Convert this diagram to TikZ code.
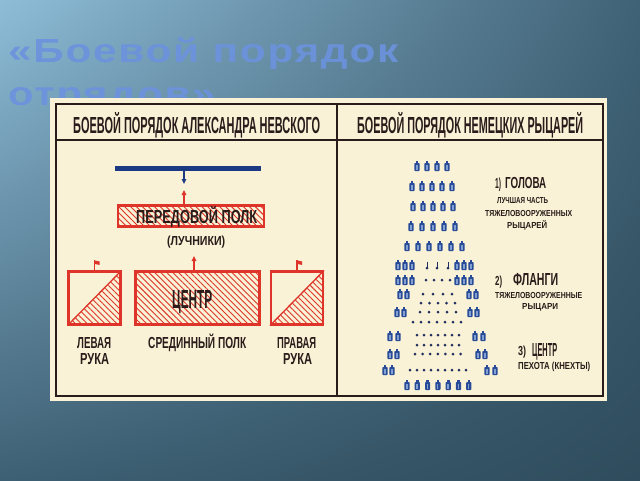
\documentclass[tikz,border=0pt]{standalone}
\usepackage{fontspec}
\setmainfont{Liberation Sans}
\newfontfamily\titlefont[LetterSpace=4]{Liberation Sans}
\usepackage{graphicx}
\usetikzlibrary{patterns.meta,arrows.meta,calc,shadings}
\newcommand\fitx[3]{\resizebox{#1}{#2}{\raisebox{0pt}[\fontcharht\font`\H][0pt]{#3}}}
\definecolor{bgUL}{RGB}{142,188,215}
\definecolor{bgUR}{RGB}{64,98,118}
\definecolor{bgLL}{RGB}{62,96,116}
\definecolor{bgLR}{RGB}{46,76,92}
\definecolor{cream}{RGB}{249,242,214}
\definecolor{ink}{RGB}{42,28,26}
\definecolor{rred}{RGB}{222,52,42}
\definecolor{bblue}{RGB}{28,58,132}
\definecolor{kblue}{RGB}{42,76,152}
\definecolor{klight}{RGB}{130,160,210}
\definecolor{dotc}{RGB}{34,46,96}
\definecolor{titlec}{RGB}{108,146,222}
\tikzset{
  txt/.style={inner sep=0pt, anchor=base west, text=ink, font=\bfseries},
  hatch/.style={pattern={Lines[angle=-45,distance=4.2pt,line width=0.9pt]}, pattern color=rred},
  redbox/.style={draw=rred, line width=2.2pt, inner sep=0pt, hatch},
  sidebox/.style={draw=rred, line width=2.2pt, inner sep=0pt},
  rarrow/.style={draw=rred, line width=1.4pt, -{Triangle[length=5pt,width=4.5pt]}},
  barrow/.style={draw=bblue, line width=1.4pt, -{Triangle[length=5pt,width=4.5pt]}},
  knight/.pic={
    \fill[kblue, rounded corners=0.8pt] (-2.6,-3) rectangle (2.6,5);
    \fill[kblue] (-1.3,-5.2) rectangle (1.3,-2.5);
    \fill[klight] (-0.9,-1.5) rectangle (0.5,3.6);
  },
  dotp/.pic={\fill[dotc] (0,0) circle (1.5pt);},
  stickp/.pic={\draw[dotc, line width=0.8pt] (0,-4.5) -- (0,2); \fill[dotc] (0,2) circle (1.5pt);}
}
\begin{document}
\begin{tikzpicture}[x=1pt,y=-1pt]
\useasboundingbox (0,0) rectangle (640,480);
% background
\shade[upper left=bgUL, upper right=bgUR, lower left=bgLL, lower right=bgLR] (0,0) rectangle (640,480);
% title
\node[inner sep=0pt, anchor=base west, text=titlec, text opacity=0.9] (t1) at (8,62)
  {\titlefont\bfseries\fitx{390pt}{23pt}{«Боевой порядок}};
\node[inner sep=0pt, anchor=base west, text=titlec, text opacity=0.9] (t2) at (8,105)
  {\titlefont\bfseries\fitx{207pt}{23pt}{отрядов»}};
% panel
\fill[cream] (50,98) rectangle (607,401);
\draw[ink, line width=1.4pt] (56,104) rectangle (603,396);
\draw[ink, line width=1.2pt] (56,140) -- (603,140);
\draw[ink, line width=1.2pt] (337,104) -- (337,396);
% headers
\node[txt] (h1) at (73,133) {\fitx{247pt}{16pt}{БОЕВОЙ ПОРЯДОК АЛЕКСАНДРА НЕВСКОГО}};
\node[txt] (h2) at (357,133) {\fitx{226pt}{16pt}{БОЕВОЙ ПОРЯДОК НЕМЕЦКИХ РЫЦАРЕЙ}};
% left column
\draw[bblue, line width=5pt] (115,168) -- (261,168);
\coordinate (bc) at (184,168);
\coordinate (bt) at (184,184);
\draw[barrow] (bc) -- (bt);
\node[redbox, minimum width=146pt, minimum height=21pt] (pered) at (191,216) {};
\coordinate (pa) at (184,190);
\draw[rarrow] (pa |- pered.north) -- (pa);
\node[txt] (pt) at (136,223) {\fitx{121pt}{13pt}{ПЕРЕДОВОЙ ПОЛК}};
\node[txt] (pl) at (167,245) {\fitx{58pt}{9pt}{(ЛУЧНИКИ)}};
\node[redbox, minimum width=124pt, minimum height=53pt] (cent) at (197.5,298) {};
\coordinate (ca) at (194,256);
\draw[rarrow] (ca |- cent.north) -- (ca);
\node[txt] (ct) at (172,308) {\fitx{40pt}{18pt}{ЦЕНТР}};
\node[sidebox, minimum width=52pt, minimum height=53pt] (lbox) at (94.5,298) {};
\fill[hatch] (lbox.south west) -- (lbox.south east) -- (lbox.north east) -- cycle;
\draw[rred, line width=1.3pt] (lbox.south west) -- (lbox.north east);
\node[sidebox, minimum width=52pt, minimum height=53pt] (rbox) at (297,298) {};
\fill[hatch] (rbox.south west) -- (rbox.south east) -- (rbox.north east) -- cycle;
\draw[rred, line width=1.3pt] (rbox.south west) -- (rbox.north east);
\draw[rred, line width=1.2pt] (lbox.north) -- ++(0,-10) coordinate (lf);
\fill[rred] (lf) -- ++(5,1) -- ++(0,3.5) -- ++(-5,-1) -- cycle;
\draw[rred, line width=1.2pt] (rbox.north) -- ++(0,-10) coordinate (rf);
\fill[rred] (rf) -- ++(5,1) -- ++(0,3.5) -- ++(-5,-1) -- cycle;
\node[txt] (lv) at (77,348) {\fitx{34pt}{11pt}{ЛЕВАЯ}};
\node[txt] (lr) at (80,364) {\fitx{29pt}{11pt}{РУКА}};
\node[txt] (sp) at (148,348) {\fitx{98pt}{11pt}{СРЕДИННЫЙ ПОЛК}};
\node[txt] (pv) at (277,348) {\fitx{39pt}{11pt}{ПРАВАЯ}};
\node[txt] (pr) at (283,364) {\fitx{29pt}{11pt}{РУКА}};
% right column: formation
\foreach \x in {417,427,437,447} \pic at (\x,166) {knight};
\foreach \x in {412,422,432,442,452} \pic at (\x,186) {knight};
\foreach \x in {413,423,433,443,453} \pic at (\x,206) {knight};
\foreach \x in {411,422,433,444,455} \pic at (\x,226) {knight};
\foreach \x in {407,418,429,440,451,462} \pic at (\x,246) {knight};
\foreach \x in {398,405,412,457,464,471} {\pic at (\x,265) {knight}; \pic at (\x,280) {knight};}
\foreach \x in {400,407,469,476} \pic at (\x,294) {knight};
\foreach \x in {397,404,470,477} \pic at (\x,312) {knight};
\foreach \x in {390,398,475,483} \pic at (\x,336) {knight};
\foreach \x in {390,397,478,485} \pic at (\x,354) {knight};
\foreach \x in {385,392,487,495} \pic at (\x,370) {knight};
\foreach \i in {0,...,6} \pic at ({407+10.3*\i},385) {knight};
\foreach \x in {427,437,448} \pic at (\x,266) {stickp};
\foreach \x in {426,434,442,450} \pic at (\x,280) {dotp};
\foreach \x in {423,433,443,452} \pic at (\x,294) {dotp};
\foreach \i in {0,...,4} \pic at ({421+8.5*\i},303) {dotp};
\foreach \i in {0,...,4} \pic at ({420+9*\i},312) {dotp};
\foreach \i in {0,...,6} \pic at ({413+8*\i},322) {dotp};
\foreach \i in {0,...,6} {\pic at ({417+7*\i},335) {dotp}; \pic at ({417+7*\i},345) {dotp};}
\foreach \i in {0,...,6} \pic at ({415+7.6*\i},354) {dotp};
\foreach \i in {0,...,8} \pic at ({410+7*\i},370) {dotp};
% right column: texts
\node[txt] (n1) at (495,188) {\fitx{6pt}{10pt}{1)}};
\node[txt] (g1) at (505,188) {\fitx{41pt}{11pt}{ГОЛОВА}};
\node[txt] (g2) at (497,203) {\fitx{51pt}{6pt}{ЛУЧШАЯ ЧАСТЬ}};
\node[txt] (g3) at (485,216) {\fitx{87pt}{6pt}{ТЯЖЕЛОВООРУЖЕННЫХ}};
\node[txt] (g4) at (507,228) {\fitx{40pt}{6pt}{РЫЦАРЕЙ}};
\node[txt] (n2) at (495,285) {\fitx{7pt}{9pt}{2)}};
\node[txt] (f1) at (513,285) {\fitx{45pt}{12pt}{ФЛАНГИ}};
\node[txt] (f2) at (495,298) {\fitx{87pt}{6pt}{ТЯЖЕЛОВООРУЖЕННЫЕ}};
\node[txt] (f3) at (522,309) {\fitx{36pt}{6pt}{РЫЦАРИ}};
\node[txt] (n3) at (518,355) {\fitx{8pt}{9pt}{3)}};
\node[txt] (c1) at (532,356) {\fitx{25pt}{13pt}{ЦЕНТР}};
\node[txt] (c2) at (518,369) {\fitx{72pt}{7pt}{ПЕХОТА (КНЕХТЫ)}};
\end{tikzpicture}
\end{document}
